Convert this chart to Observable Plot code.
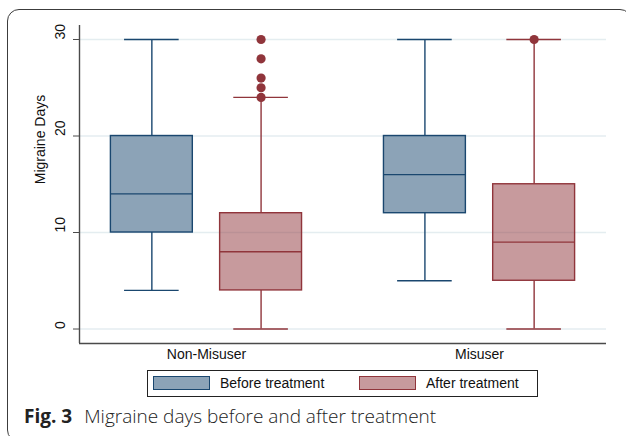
<!DOCTYPE html>
<html><head><meta charset="utf-8">
<script src="https://cdn.jsdelivr.net/npm/d3@7"></script>
<script src="https://cdn.jsdelivr.net/npm/@observablehq/plot@0.6"></script>
<style>
body{margin:0;background:#fff;}
#wrap{position:relative;width:626px;height:436px;overflow:hidden;font-family:"Liberation Sans",Arial,sans-serif;}
#frame{position:absolute;left:7px;top:9px;width:625px;height:433px;border:1.4px solid #3c3c3c;border-radius:12px;box-sizing:border-box;}
#chart{position:absolute;left:0;top:0;}
#legend{position:absolute;left:147px;top:370px;width:391px;height:27px;border:1px solid #222;box-sizing:border-box;font-size:14px;color:#111;}
.sw{position:absolute;top:5px;width:57px;height:14px;box-sizing:border-box;border:1.3px solid;}
.lt{position:absolute;top:4px;line-height:17px;white-space:nowrap;}
#caption{position:absolute;left:24px;top:403px;font-family:"Open Sans","Noto Sans",sans-serif;font-size:19px;color:#222;white-space:nowrap;}
#caption b{font-weight:700;margin-right:12px;}
#caption span{font-weight:300;}
</style>
</head><body>
<div id="wrap">
  <div id="frame"></div>
  <div id="chart"></div>
  <div id="legend"></div>
  <div id="caption"><b>Fig. 3</b><span>Migraine days before and after treatment</span></div>
</div>
<script>
const groups = ["Non-Misuser", "Misuser"];
const series = ["Before treatment", "After treatment"];
const strokeColors = ["#1a476f", "#90353b"];
const yTicks = [0, 10, 20, 30];

// one entry per box
const boxGroup = ["Non-Misuser", "Non-Misuser", "Misuser", "Misuser"];
const boxSeries = ["Before treatment", "After treatment", "Before treatment", "After treatment"];
const lowerWhisker = [4, 0, 5, 0];
const q1 = [10, 4, 12, 5];
const median = [14, 8, 16, 9];
const q3 = [20, 12, 20, 15];
const upperWhisker = [30, 24, 30, 30];

// outside values
const outGroup = ["Non-Misuser", "Non-Misuser", "Non-Misuser", "Non-Misuser", "Non-Misuser", "Misuser"];
const outSeries = ["After treatment", "After treatment", "After treatment", "After treatment", "After treatment", "After treatment"];
const outValue = [24, 25, 26, 28, 30, 30];

const offset = 0.2, halfBox = 0.15, halfCap = 0.1;
const pos = (g, s) => groups.indexOf(g) + 1 + (series.indexOf(s) === 0 ? -offset : offset);

const boxes = boxGroup.map((g, i) => ({
  group: g, series: boxSeries[i], xc: pos(g, boxSeries[i]),
  lo: lowerWhisker[i], q1: q1[i], med: median[i], q3: q3[i], hi: upperWhisker[i]
}));
const outs = outValue.map((v, i) => ({series: outSeries[i], xc: pos(outGroup[i], outSeries[i]), v}));

const xDomain = [0.535, 2.465];
const yDomain = [-1.5, 31.45];
const axisColor = "#4a4a4a";

const plot = Plot.plot({
  width: 626, height: 365,
  marginLeft: 79, marginRight: 20, marginTop: 25, marginBottom: 22,
  style: {fontFamily: "'Liberation Sans', Arial, sans-serif", fontSize: "14px", color: "#111", background: "transparent"},
  x: {type: "linear", domain: xDomain, axis: null},
  y: {domain: yDomain, axis: null},
  color: {domain: series, range: strokeColors},
  marks: [
    Plot.ruleY(yTicks, {stroke: "#e4edf0", strokeWidth: 1.3}),
    // whiskers
    Plot.ruleX(boxes, {x: "xc", y1: "q3", y2: "hi", stroke: "series", strokeWidth: 1.4}),
    Plot.ruleX(boxes, {x: "xc", y1: "lo", y2: "q1", stroke: "series", strokeWidth: 1.4}),
    Plot.ruleY(boxes, {y: "hi", x1: d => d.xc - halfCap, x2: d => d.xc + halfCap, stroke: "series", strokeWidth: 1.4}),
    Plot.ruleY(boxes, {y: "lo", x1: d => d.xc - halfCap, x2: d => d.xc + halfCap, stroke: "series", strokeWidth: 1.4}),
    // boxes
    Plot.rect(boxes, {x1: d => d.xc - halfBox, x2: d => d.xc + halfBox, y1: "q1", y2: "q3", fill: "series", fillOpacity: 0.5, stroke: "series", strokeWidth: 1.4}),
    Plot.ruleY(boxes, {y: "med", x1: d => d.xc - halfBox, x2: d => d.xc + halfBox, stroke: "series", strokeWidth: 1.4}),
    // outliers
    Plot.dot(outs, {x: "xc", y: "v", r: 4.6, fill: "series", stroke: null}),
    // axes
    Plot.axisY({ticks: yTicks, tickSize: 6, tickFormat: () => "", stroke: axisColor, label: null}),
    Plot.text(yTicks, {y: d => d, text: d => String(d), frameAnchor: "left", dx: -19, rotate: -90, fill: "#111", fontSize: 14}),
    Plot.text(["Migraine Days"], {y: 15, text: d => d, frameAnchor: "left", dx: -39, rotate: -90, fill: "#111", fontSize: 14}),
    Plot.text(groups, {x: (d, i) => i + 1, text: d => d, frameAnchor: "bottom", dy: 15, fill: "#111", fontSize: 14}),
    Plot.ruleX([xDomain[0]], {stroke: axisColor, strokeWidth: 1.4}),
    Plot.ruleY([yDomain[0]], {stroke: axisColor, strokeWidth: 1.4})
  ]
});
document.getElementById("chart").appendChild(plot);

// legend
const legend = document.getElementById("legend");
const fills = ["rgba(26,71,111,0.5)", "rgba(144,53,59,0.5)"];
const swLeft = [5, 211], txtLeft = [72, 278];
series.forEach((s, i) => {
  const sw = document.createElement("div");
  sw.className = "sw";
  sw.style.left = swLeft[i] + "px";
  sw.style.background = fills[i];
  sw.style.borderColor = strokeColors[i];
  legend.appendChild(sw);
  const t = document.createElement("div");
  t.className = "lt";
  t.style.left = txtLeft[i] + "px";
  t.textContent = s;
  legend.appendChild(t);
});
</script>
</body></html>
